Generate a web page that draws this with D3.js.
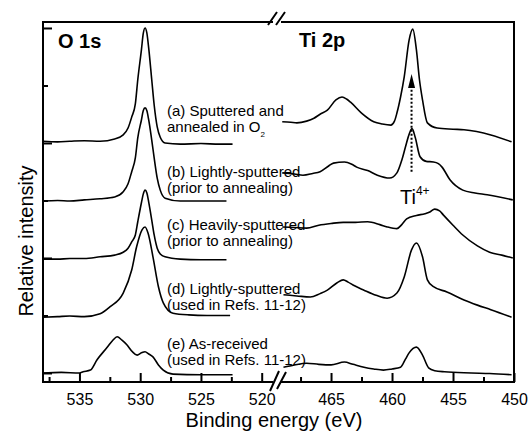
<!DOCTYPE html>
<html>
<head>
<meta charset="utf-8">
<title>XPS O 1s / Ti 2p</title>
<script src="https://d3js.org/d3.v7.min.js"></script>
<style>
  body { margin: 0; background: #fff; }
  svg { font-family: "Liberation Sans", Arial, Helvetica, sans-serif; }
  .spec { fill: none; stroke: #000; stroke-width: 1.6px; stroke-linejoin: round; }
  .frame { fill: none; stroke: #000; stroke-width: 2px; }
  .tick line { stroke: #000; stroke-width: 2px; }
  .tick text { font-size: 16px; fill: #000; }
  .lbl { font-size: 15px; fill: #000; }
</style>
</head>
<body>
<svg id="chart" width="528" height="433"></svg>
<script>

// spectra as [binding energy (eV), relative intensity], stacked (a) on top ... (e) at bottom
var o1sA = [[538.0,4.03],[536.8,4.02],[535.8,4.03],[534.6,4.04],[533.3,4.03],[532.1,4.07],[531.4,4.14],[531.0,4.26],
            [530.7,4.45],[530.4,4.68],[530.2,5.10],[529.9,5.62],[529.75,5.90],[529.6,6.0],[529.45,5.91],[529.3,5.65],
            [529.05,5.10],[528.85,4.66],[528.6,4.28],[528.35,4.10],[527.95,4.00],[526.7,3.98],[525.0,3.99],[523.5,3.98],[522.4,3.98]];
var o1sB = [[538.0,2.99],[536.8,3.00],[535.8,2.99],[534.6,3.01],[533.3,3.03],[532.1,3.06],[531.4,3.15],[531.0,3.29],
            [530.7,3.50],[530.4,3.74],[530.2,4.09],[529.9,4.40],[529.75,4.56],[529.6,4.61],[529.45,4.56],[529.3,4.40],
            [529.05,4.05],[528.85,3.74],[528.6,3.39],[528.35,3.18],[527.95,3.04],[526.7,2.99],[525.0,2.99],[522.9,2.99]];
var o1sC = [[538.0,1.98],[536.8,1.98],[535.8,1.99],[534.6,1.99],[533.3,2.02],[532.1,2.05],[531.4,2.10],[531.0,2.17],
            [530.7,2.28],[530.4,2.40],[530.2,2.63],[529.9,2.96],[529.75,3.11],[529.6,3.18],[529.45,3.13],[529.3,2.97],
            [529.05,2.66],[528.85,2.40],[528.6,2.17],[528.35,2.07],[527.95,2.02],[526.7,1.98],[525.0,1.97],[522.9,1.97]];
var o1sD = [[538.0,0.97],[536.8,0.98],[535.8,0.99],[534.6,0.98],[533.3,1.03],[532.5,1.15],[531.4,1.39],[530.7,1.79],
            [530.3,2.19],[529.85,2.49],[529.6,2.54],[529.35,2.43],[528.95,2.02],[528.5,1.50],[528.1,1.22],[527.3,1.04],
            [526.0,1.01],[524.5,1.00],[522.6,1.00]];
var o1sE = [[538.0,0.0],[536.5,0.01],[535.0,0.0],[534.7,0.02],[534.1,0.05],[533.55,0.23],[532.7,0.45],[532.25,0.57],
            [531.9,0.63],[531.5,0.57],[531.1,0.49],[530.65,0.37],[530.25,0.31],[529.9,0.35],[529.6,0.37],[529.3,0.33],
            [528.95,0.28],[528.5,0.14],[528.1,0.05],[527.3,-0.02],[525.0,-0.03],[522.4,-0.03]];

var ti2pA = [[469.0,4.37],[468.3,4.36],[467.8,4.35],[467.0,4.38],[466.4,4.43],[465.9,4.50],[465.3,4.57],[464.6,4.75],
             [464.1,4.80],[463.7,4.76],[463.4,4.71],[462.5,4.52],[461.5,4.37],[460.8,4.33],[460.1,4.31],[459.8,4.38],
             [459.6,4.52],[459.3,4.80],[459.0,5.15],[458.6,5.79],[458.3,5.98],[458.0,5.62],[457.75,5.10],[457.5,4.75],
             [457.1,4.35],[456.3,4.26],[455.0,4.24],[454.1,4.23],[451.9,4.14],[450.2,4.02]];
var ti2pB = [[469.0,3.48],[468.0,3.46],[467.3,3.44],[466.5,3.47],[465.9,3.50],[465.2,3.60],[464.8,3.65],[463.9,3.67],
             [463.3,3.63],[462.9,3.58],[462.0,3.52],[461.2,3.44],[460.2,3.39],[459.6,3.48],[459.2,3.70],[458.9,3.93],
             [458.6,4.15],[458.36,4.25],[458.1,4.10],[457.7,3.76],[457.2,3.68],[456.6,3.67],[456.2,3.64],[455.9,3.58],
             [455.25,3.36],[454.2,3.18],[453.2,3.13],[452.2,3.10],[450.1,3.01]];
var ti2pC = [[469.0,2.54],[468.0,2.53],[467.0,2.52],[466.0,2.57],[465.0,2.60],[464.0,2.62],[463.0,2.62],[462.0,2.63],
             [461.0,2.58],[460.4,2.54],[459.6,2.51],[459.2,2.58],[458.8,2.68],[458.0,2.74],[457.3,2.77],[456.9,2.80],
             [456.5,2.85],[456.1,2.82],[455.8,2.75],[455.0,2.57],[454.2,2.40],[453.0,2.21],[452.0,2.10],[451.0,2.05],[450.1,2.0]];
var ti2pD = [[468.9,1.36],[467.8,1.34],[466.7,1.32],[465.9,1.38],[465.3,1.44],[464.5,1.57],[464.0,1.62],[463.6,1.58],
             [463.2,1.53],[462.3,1.44],[461.3,1.35],[460.4,1.30],[459.6,1.39],[459.0,1.67],[458.4,2.14],[458.0,2.26],
             [457.5,2.02],[457.1,1.62],[456.6,1.50],[455.5,1.41],[454.1,1.27],[453.0,1.18],[451.9,1.10],[450.2,0.97]];
var ti2pE = [[468.9,0.10],[468.0,0.14],[467.0,0.17],[466.0,0.15],[465.0,0.14],[463.9,0.19],[463.2,0.15],[462.3,0.10],
             [461.5,0.07],[460.7,0.05],[460.0,0.07],[459.3,0.10],[458.9,0.24],[458.6,0.35],[458.0,0.45],[457.5,0.31],
             [457.0,0.09],[456.5,0.04],[455.7,0.02],[453.5,0.0],[452.0,-0.01],[450.2,-0.03]];

var sampleLabels = [
    ["(a) Sputtered and", "annealed in O2"],
    ["(b) Lightly-sputtered", "(prior to annealing)"],
    ["(c) Heavily-sputtered", "(prior to annealing)"],
    ["(d) Lightly-sputtered", "(used in Refs. 11-12)"],
    ["(e) As-received", "(used in Refs. 11-12)"]
];

var xTicksO = [535, 530, 525, 520],  xMinorO = [537.5, 532.5, 527.5, 522.5];
var xTicksTi = [465, 460, 455, 450], xMinorTi = [467.5, 462.5, 457.5, 452.5];
var yTicks = [0, 2, 4, 6], yMinor = [1, 3, 5];

// Ti4+ arrow: energy, from / to intensity
var arrowE = 458.4, arrowFrom = 3.5, arrowTo = 5.2;

var svg = d3.select("#chart");

// broken x axis: O 1s on the left, Ti 2p on the right
var xO = d3.scaleLinear().domain([538, 519.07]).range([43, 273]);
var xTi = d3.scaleLinear().domain([469.02, 450]).range([282, 514]);
var y = d3.scaleLinear().domain([-0.157, 6.104]).range([382, 22]);

var plotTop = 22, plotBottom = 382, plotLeft = 43, plotRight = 514;

var lineO = d3.line().x(function(d) { return xO(d[0]); }).y(function(d) { return y(d[1]); }).curve(d3.curveMonotoneX);
var lineTi = d3.line().x(function(d) { return xTi(d[0]); }).y(function(d) { return y(d[1]); }).curve(d3.curveMonotoneX);

[o1sA, o1sB, o1sC, o1sD, o1sE].forEach(function(s) {
    svg.append("path").attr("class", "spec").attr("d", lineO(s));
});
[ti2pA, ti2pB, ti2pC, ti2pD, ti2pE].forEach(function(s) {
    svg.append("path").attr("class", "spec").attr("d", lineTi(s));
});

// ticks (inward)
function ticks(axis, vals, size, withLabels, transform) {
    var a = axis.tickValues(vals).tickSize(-size).tickPadding(12);
    if (!withLabels) a.tickFormat("");
    var g = svg.append("g").attr("transform", transform).call(a);
    g.select(".domain").remove();
    g.selectAll("text").attr("font-family", null).attr("font-size", null);
    return g;
}
ticks(d3.axisBottom(xO), xTicksO, 9, true, "translate(0," + plotBottom + ")");
ticks(d3.axisBottom(xO), xMinorO, 5, false, "translate(0," + plotBottom + ")");
ticks(d3.axisBottom(xTi), xTicksTi, 9, true, "translate(0," + plotBottom + ")");
ticks(d3.axisBottom(xTi), xMinorTi, 5, false, "translate(0," + plotBottom + ")");
ticks(d3.axisLeft(y), yTicks, 9, false, "translate(" + plotLeft + ",0)");
ticks(d3.axisLeft(y), yMinor, 5, false, "translate(" + plotLeft + ",0)");

// frame with the break
var frame = svg.append("g").attr("class", "frame");
frame.append("path").attr("d",
    "M273," + plotTop + "H" + plotLeft + "V" + plotBottom + "H273" +
    "M281," + plotTop + "H" + plotRight + "V" + plotBottom + "H281");
frame.append("path").attr("d",
    "M270,391L279,371M277,389L286,372" +
    "M268,25L277,12M276,25L285,12");

// panel titles
svg.append("text").attr("x", 58).attr("y", 48).attr("font-size", 20).attr("font-weight", "bold").text("O 1s");
svg.append("text").attr("x", 299).attr("y", 47).attr("font-size", 20).attr("font-weight", "bold").text("Ti 2p");

// sample labels
var labelY = [116, 177, 230, 294, 349];
sampleLabels.forEach(function(lines, i) {
    lines.forEach(function(t, j) {
        var txt = svg.append("text").attr("class", "lbl").attr("x", 167).attr("y", labelY[i] + j * 16);
        if (t.slice(-2) === "O2") {
            txt.text(t.slice(0, -1));
            txt.append("tspan").attr("font-size", 8).attr("dy", 5).text("2");
        } else {
            txt.text(t);
        }
    });
});

// Ti4+ marker
var ax = xTi(arrowE);
svg.append("line").attr("x1", ax).attr("x2", ax)
    .attr("y1", y(arrowFrom)).attr("y2", y(arrowTo) + 12)
    .attr("stroke", "#000").attr("stroke-width", 2).attr("stroke-dasharray", "2,2");
svg.append("path")
    .attr("d", "M" + (ax - 3.5) + "," + (y(arrowTo) + 14) + "L" + (ax + 3.5) + "," + (y(arrowTo) + 14) + "L" + ax + "," + y(arrowTo) + "Z")
    .attr("fill", "#000");
var ti = svg.append("text").attr("x", 400).attr("y", 204).attr("font-size", 20).text("Ti");
ti.append("tspan").attr("font-size", 12).attr("dy", -9).text("4+");

// axis titles
svg.append("text").attr("x", 274).attr("y", 427).attr("text-anchor", "middle").attr("font-size", 20)
    .text("Binding energy (eV)");
svg.append("text").attr("transform", "translate(33,241) rotate(-90)").attr("text-anchor", "middle")
    .attr("font-size", 20).text("Relative intensity");

</script>
</body>
</html>
